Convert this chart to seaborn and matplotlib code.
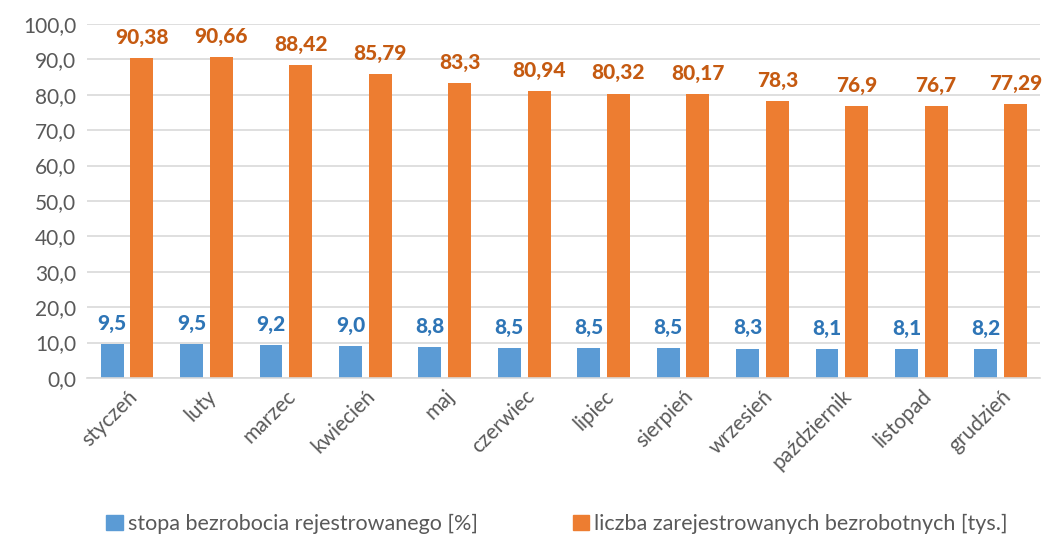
import numpy as np
import pandas as pd
import seaborn as sns
import matplotlib.pyplot as plt
from matplotlib.ticker import FuncFormatter, MultipleLocator

# --- data ---
months = ["styczeń", "luty", "marzec", "kwiecień", "maj", "czerwiec",
          "lipiec", "sierpień", "wrzesień", "październik", "listopad", "grudzień"]
rate = [9.5, 9.5, 9.2, 9.0, 8.8, 8.5, 8.5, 8.5, 8.3, 8.1, 8.1, 8.2]
count = [90.38, 90.66, 88.42, 85.79, 83.3, 80.94, 80.32, 80.17, 78.3, 76.9, 76.7, 77.29]
series = ["stopa bezrobocia rejestrowanego [%]", "liczba zarejestrowanych bezrobotnych [tys.]"]

df = pd.DataFrame({
    "month": months * 2,
    "value": rate + count,
    "series": [series[0]] * len(months) + [series[1]] * len(months),
})

sns.set_theme(style="white")
plt.rcParams['font.family'] = ['Lato', 'DejaVu Sans']

bar_colors = ["#5B9BD5", "#ED7D31"]
label_colors = ["#2E75B6", "#C55A11"]
text_gray = "#595959"

fig = plt.figure(figsize=(10.52, 5.43), dpi=100)
ax = fig.add_axes([0.083, 0.304, 0.906, 0.652])

sns.barplot(data=df, x="month", y="value", hue="series", palette=bar_colors,
            width=0.75, gap=0.23, ax=ax, saturation=1, linewidth=0, legend=False)

# labels: rate with one decimal, count as is
for cont, col, fmt in zip(ax.containers, label_colors,
                          [lambda v: f"{v:.1f}", lambda v: f"{v:g}"]):
    labels = [fmt(v).replace(".", ",") for v in cont.datavalues]
    ax.bar_label(cont, labels=labels, padding=8, color=col, fontsize=15, fontweight="black")

ax.set_ylim(0, 100)
ax.yaxis.set_major_locator(MultipleLocator(10))
ax.yaxis.set_major_formatter(FuncFormatter(lambda v, p: f"{v:.1f}".replace(".", ",")))
ax.grid(axis="y", color="#D9D9D9", linewidth=1.2)
ax.set_axisbelow(True)
for s in ["left", "right", "top"]:
    ax.spines[s].set_visible(False)
ax.spines["bottom"].set_color("#D9D9D9")
ax.spines["bottom"].set_linewidth(1.2)
ax.set_xlabel("")
ax.set_ylabel("")
ax.tick_params(axis="y", labelsize=15, colors=text_gray, length=0, pad=8)
ax.tick_params(axis="x", labelsize=15, colors=text_gray, length=0, pad=6)
plt.setp(ax.get_xticklabels(), rotation=45, ha="right", rotation_mode="anchor")

handles = [plt.Rectangle((0, 0), 1, 1, color=c) for c in bar_colors]
fig.legend(handles, series, loc="center left", bbox_to_anchor=(0.091, 0.035), ncol=2,
           frameon=False, fontsize=15.5, labelcolor=text_gray, handlelength=0.75,
           handleheight=0.75, handletextpad=0.25, columnspacing=4.4, borderpad=0)

fig.savefig("out.png", dpi=100)
